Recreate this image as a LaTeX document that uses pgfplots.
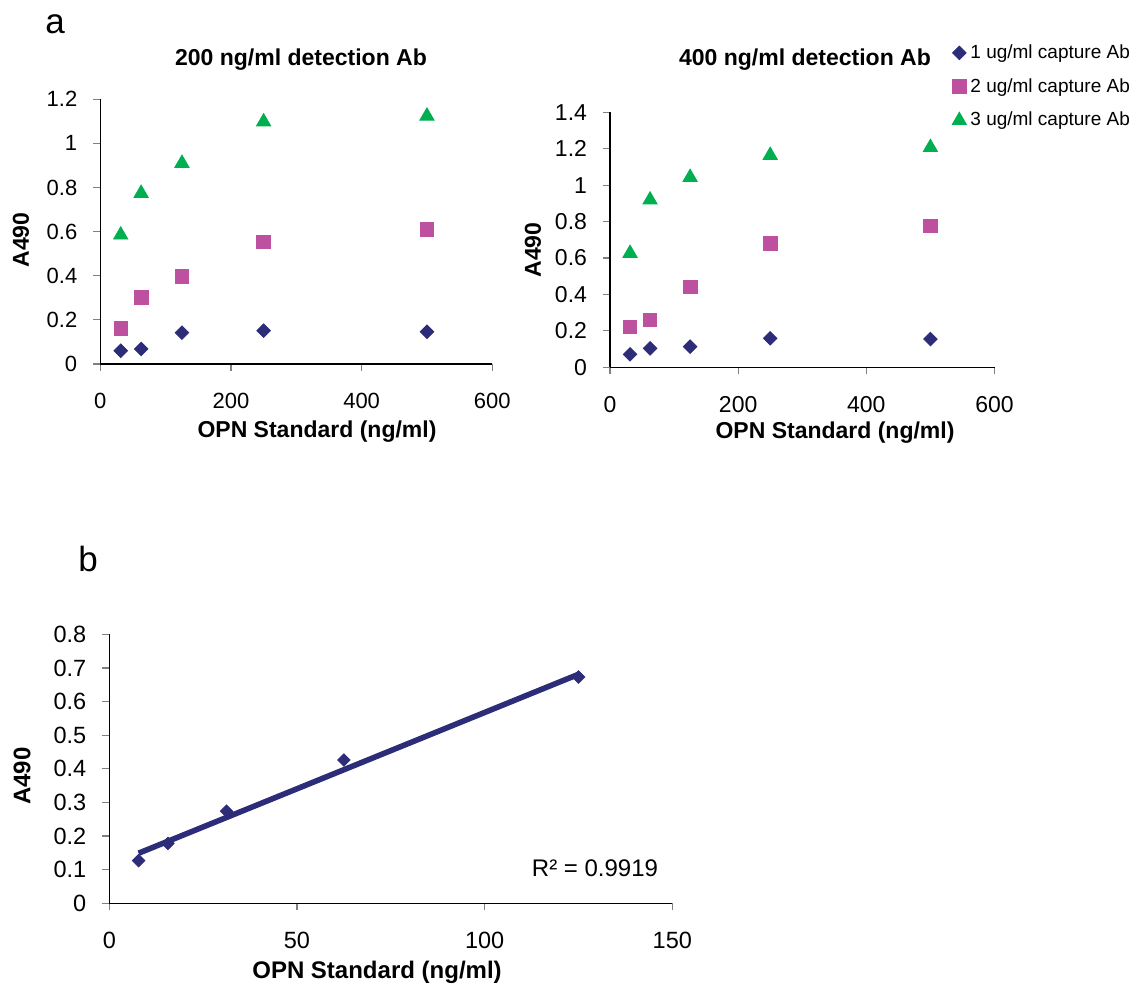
\documentclass[border=0pt]{standalone}
\usepackage{fontspec}
\setmainfont{Liberation Sans}
\usepackage{pgfplots}
\pgfplotsset{compat=1.18}
\definecolor{navy}{RGB}{44,44,120}
\definecolor{mag}{RGB}{190,80,160}
\definecolor{grn}{RGB}{0,176,80}
\pgfplotsset{
  excel/.style={
    scale only axis,
    axis x line*=bottom, axis y line*=left,
    axis line style={black, line width=0.6pt},
    tick align=outside,
    major tick length=3.5pt,
    major tick style={draw=gray, line width=0.6pt},
    /pgf/number format/assume math mode=true,
    clip=false,
    yticklabel style={xshift=-4.5pt},
    xticklabel style={yshift=-7.5pt},
  },
  s1/.style={only marks, mark=square*, mark size=2.4pt, color=navy, mark options={rotate=45, fill=navy, draw=navy}},
  s2/.style={only marks, mark=square*, mark size=3.4pt, color=mag, mark options={fill=mag, draw=mag}},
  s3/.style={only marks, mark=triangle*, mark size=4.1pt, color=grn, mark options={fill=grn, draw=grn}},
}
\begin{document}
\begin{tikzpicture}
\useasboundingbox (0,0) rectangle (569pt,494pt);
% ---------- panel a, left ----------
\begin{axis}[excel,
  at={(50.15pt,312pt)}, anchor=origin,
  width=196pt, height=132.35pt,
  xmin=0, xmax=600, ymin=0, ymax=1.2,
  xtick={0,200,400,600}, ytick={0,0.2,0.4,0.6,0.8,1,1.2},
  tick label style={font=\fontsize{11}{13}\selectfont},
]
\addplot[s1] coordinates {(31.25,0.060) (62.5,0.068) (125,0.142) (250,0.151) (500,0.146)};
\addplot[s2] coordinates {(31.25,0.162) (62.5,0.301) (125,0.398) (250,0.553) (500,0.609)};
\addplot[s3] coordinates {(31.25,0.585) (62.5,0.774) (125,0.910) (250,1.098) (500,1.124)};
\end{axis}
% ---------- panel a, right ----------
\begin{axis}[excel,
  at={(305pt,310.35pt)}, anchor=origin,
  width=192.25pt, height=127.5pt,
  xmin=0, xmax=600, ymin=0, ymax=1.4,
  xtick={0,200,400,600}, ytick={0,0.2,0.4,0.6,0.8,1,1.2,1.4},
  tick label style={font=\fontsize{11.5}{13}\selectfont},
  legend style={at={(rel axis cs:0.889,1.283)}, anchor=north west, draw=none, fill=none,
    font=\fontsize{9.5}{11}\selectfont, row sep=4.5pt, inner sep=0pt},
  legend cell align=left,
  legend image code/.code={\draw[#1] plot coordinates {(0pt,0pt)};},
]
\addplot[s1] coordinates {(31.25,0.071) (62.5,0.104) (125,0.113) (250,0.159) (500,0.155)};
\addlegendentry{1 ug/ml capture Ab}
\addplot[s2] coordinates {(31.25,0.221) (62.5,0.261) (125,0.441) (250,0.681) (500,0.776)};
\addlegendentry{2 ug/ml capture Ab}
\addplot[s3] coordinates {(31.25,0.626) (62.5,0.919) (125,1.043) (250,1.164) (500,1.207)};
\addlegendentry{3 ug/ml capture Ab}
\end{axis}
% ---------- panel b ----------
\begin{axis}[excel,
  at={(54.65pt,42.35pt)}, anchor=origin,
  width=281.5pt, height=134.5pt,
  xmin=0, xmax=150, ymin=0, ymax=0.8,
  xtick={0,50,100,150}, ytick={0,0.1,0.2,0.3,0.4,0.5,0.6,0.7,0.8},
  tick label style={font=\fontsize{11.75}{13}\selectfont},
]
\addplot[s1, mark size=2.2pt] coordinates {(7.8125,0.127) (15.625,0.178) (31.25,0.274) (62.5,0.426) (125,0.673)};
\addplot[navy, line width=2.8pt, no marks] coordinates {(7.8125,0.149) (125,0.681)};
\node[font=\fontsize{12}{14}\selectfont] at (axis cs:129.4,0.105) {R² = 0.9919};
\end{axis}
% ---------- texts ----------
\node[font=\fontsize{17.5}{20}\selectfont] at (27.5pt,482pt) {a};
\node[font=\fontsize{17.5}{20}\selectfont] at (44pt,214.5pt) {b};
\node[font=\bfseries\fontsize{11.5}{13}\selectfont] at (150.5pt,464pt) {200 ng/ml detection Ab};
\node[font=\bfseries\fontsize{11.5}{13}\selectfont] at (402.5pt,464pt) {400 ng/ml detection Ab};
\node[font=\bfseries\fontsize{11.5}{13}\selectfont] at (158.5pt,278pt) {OPN Standard (ng/ml)};
\node[font=\bfseries\fontsize{11.5}{13}\selectfont] at (417.5pt,277.5pt) {OPN Standard (ng/ml)};
\node[font=\bfseries\fontsize{11.5}{13}\selectfont, rotate=90] at (10.5pt,374pt) {A490};
\node[font=\bfseries\fontsize{11.5}{13}\selectfont, rotate=90] at (266.5pt,369pt) {A490};
\node[font=\bfseries\fontsize{12}{14}\selectfont] at (188.5pt,8pt) {OPN Standard (ng/ml)};
\node[font=\bfseries\fontsize{12}{14}\selectfont, rotate=90] at (11pt,106pt) {A490};
\end{tikzpicture}
\end{document}
